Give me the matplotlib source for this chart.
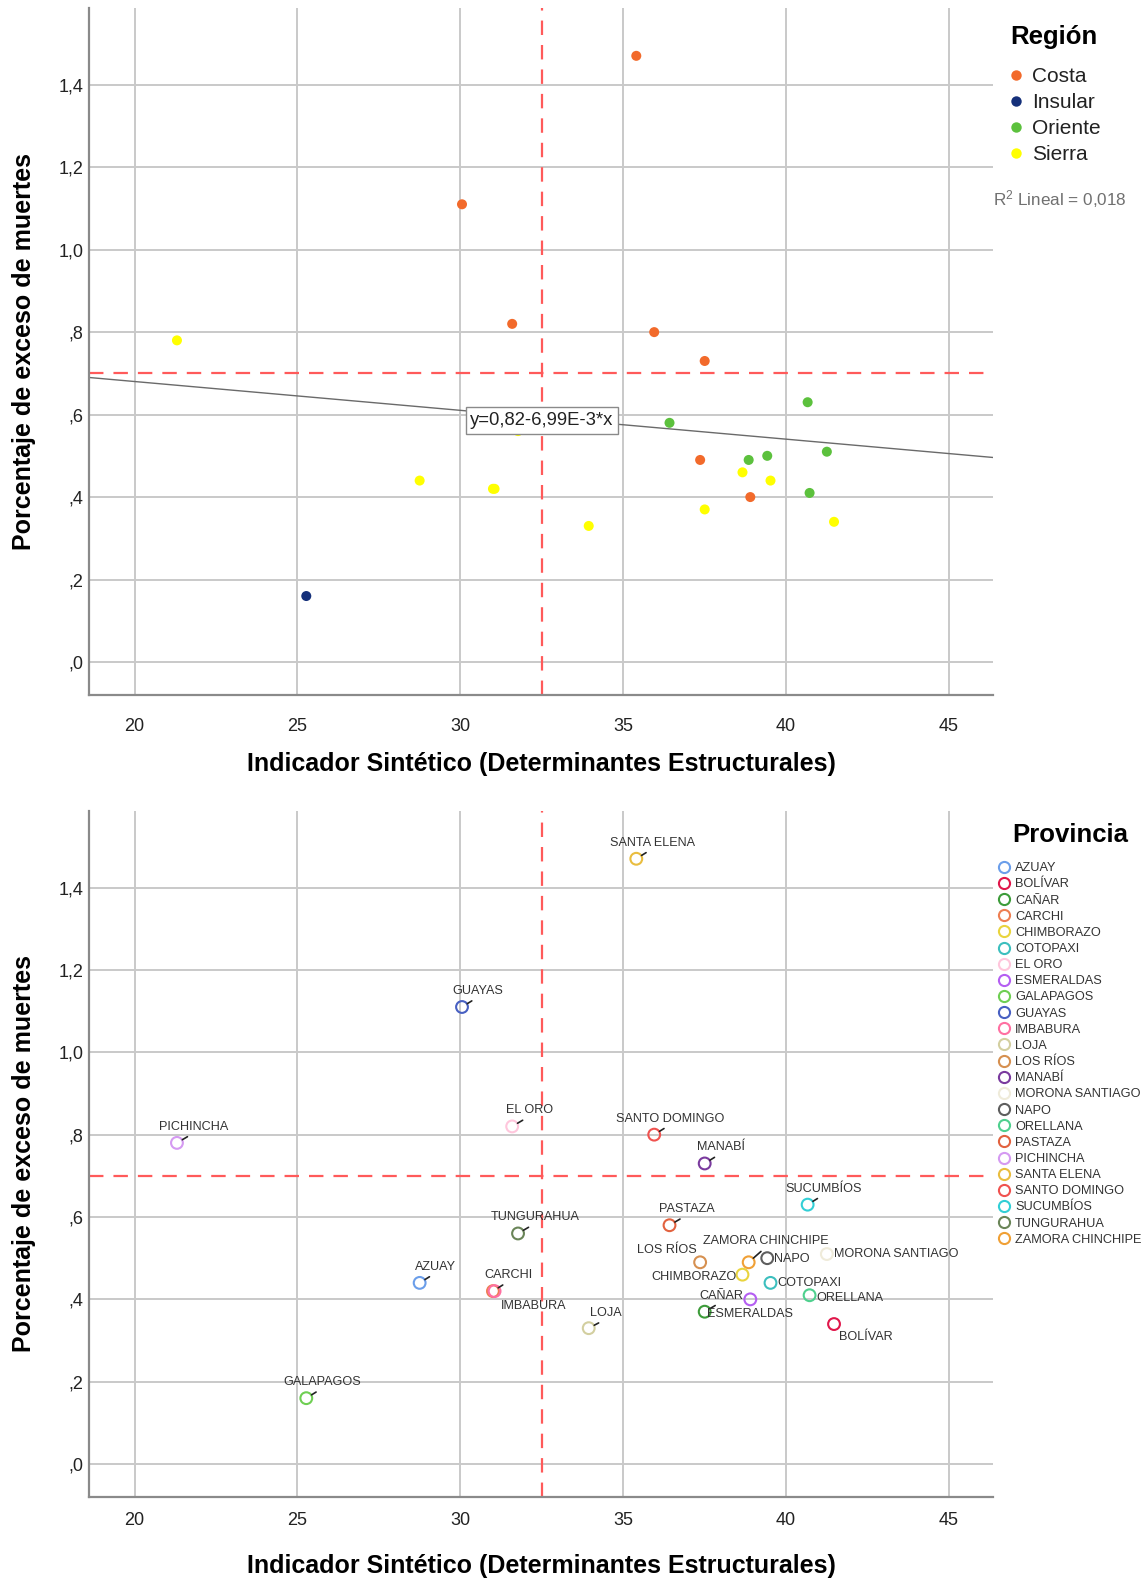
import matplotlib
matplotlib.use("Agg")
import matplotlib.pyplot as plt
from matplotlib.lines import Line2D

plt.rcParams['font.family'] = ['Liberation Sans', 'DejaVu Sans']
plt.rcParams['mathtext.fontset'] = 'custom'
plt.rcParams['mathtext.rm'] = 'Liberation Sans'
plt.rcParams['mathtext.it'] = 'Liberation Sans:italic'

# ---------------- data ----------------
provincias = ["AZUAY", "BOLÍVAR", "CAÑAR", "CARCHI", "CHIMBORAZO", "COTOPAXI",
              "EL ORO", "ESMERALDAS", "GALAPAGOS", "GUAYAS", "IMBABURA", "LOJA",
              "LOS RÍOS", "MANABÍ", "MORONA SANTIAGO", "NAPO", "ORELLANA", "PASTAZA",
              "PICHINCHA", "SANTA ELENA", "SANTO DOMINGO", "SUCUMBÍOS", "TUNGURAHUA",
              "ZAMORA CHINCHIPE"]
indicador = [28.75, 41.47, 37.50, 31.00, 38.66, 39.52,
             31.59, 38.90, 25.27, 30.05, 31.05, 33.94,
             37.36, 37.50, 41.25, 39.42, 40.72, 36.42,
             21.30, 35.40, 35.95, 40.66, 31.77, 38.85]
exceso = [0.44, 0.34, 0.37, 0.42, 0.46, 0.44,
          0.82, 0.40, 0.16, 1.11, 0.42, 0.33,
          0.49, 0.73, 0.51, 0.50, 0.41, 0.58,
          0.78, 1.47, 0.80, 0.63, 0.56, 0.49]
region = ["Sierra", "Sierra", "Sierra", "Sierra", "Sierra", "Sierra",
          "Costa", "Costa", "Insular", "Costa", "Sierra", "Sierra",
          "Costa", "Costa", "Oriente", "Oriente", "Oriente", "Oriente",
          "Sierra", "Costa", "Costa", "Oriente", "Sierra", "Oriente"]
regiones = ["Costa", "Insular", "Oriente", "Sierra"]
region_colors = {"Costa": "#F26A2B", "Insular": "#15307A",
                 "Oriente": "#5CC13D", "Sierra": "#FFFF00"}
prov_colors = ["#6B9EEA", "#E0174B", "#3D9C3A", "#EE7F52", "#E9D43E", "#3CBFBE",
               "#FFC6DC", "#B45EF2", "#6FCF53", "#4860C2", "#FF70A2", "#D3CFA0",
               "#D69050", "#7A3A9E", "#EFEBDA", "#5E5E5E", "#4FD08E", "#E2623F",
               "#D59AF2", "#E9BD3F", "#F0524F", "#32CFD6", "#6A8558", "#F0A035"]

intercepto = 0.82
pendiente = -0.00699
r2 = "0,018"
corte_x = 32.5
corte_y = 0.7

xticks = [20, 25, 30, 35, 40, 45]
yticks = [0.0, 0.2, 0.4, 0.6, 0.8, 1.0, 1.2, 1.4]
ytick_labels = [",0", ",2", ",4", ",6", ",8", "1,0", "1,2", "1,4"]

# label placement (pixel offsets of the label from its point; ha; leader line)
label_pos = {
    "AZUAY": (16, 16, "center", True), "BOLÍVAR": (32, -13, "center", False),
    "CAÑAR": (17, 16, "center", True), "CARCHI": (16, 16, "center", True),
    "CHIMBORAZO": (-6, -2, "right", False), "COTOPAXI": (7, 0, "left", False),
    "EL ORO": (17, 16, "center", True), "ESMERALDAS": (0, -15, "center", False),
    "GALAPAGOS": (16, 16, "center", True), "GUAYAS": (16, 16, "center", True),
    "IMBABURA": (39, -15, "center", False), "LOJA": (17, 15, "center", True),
    "LOS RÍOS": (-33, 12, "center", False), "MANABÍ": (16, 16, "center", True),
    "MORONA SANTIAGO": (7, 0, "left", False), "NAPO": (7, -1, "left", False),
    "ORELLANA": (7, -3, "left", False), "PASTAZA": (17, 16, "center", True),
    "PICHINCHA": (17, 16, "center", True), "SANTA ELENA": (16, 16, "center", True),
    "SANTO DOMINGO": (16, 16, "center", True), "SUCUMBÍOS": (16, 16, "center", True),
    "TUNGURAHUA": (17, 16, "center", True), "ZAMORA CHINCHIPE": (17, 21, "center", True),
}

W, H = 1146, 1579
fig = plt.figure(figsize=(W / 100, H / 100), dpi=100)

XLIM = (18.6, 46.35)
YLIM = (-0.08, 1.586)
AX_L, AX_R = 89, 993


def style_axes(ax, xpad):
    ax.set_xlim(*XLIM)
    ax.set_ylim(*YLIM)
    ax.set_xticks(xticks)
    ax.set_xticklabels([str(v) for v in xticks])
    ax.set_yticks(yticks)
    ax.set_yticklabels(ytick_labels)
    ax.grid(True, color="#C9C9C9", lw=1.4, zorder=0)
    ax.set_axisbelow(True)
    for s in ["top", "right"]:
        ax.spines[s].set_visible(False)
    for s in ["left", "bottom"]:
        ax.spines[s].set_color("#8A8A8A")
        ax.spines[s].set_linewidth(1.6)
    ax.tick_params(axis="both", length=0, labelsize=13, colors="#222222")
    ax.tick_params(axis="x", pad=xpad)
    ax.tick_params(axis="y", pad=4)
    ax.axvline(corte_x, color="#FF5A5A", lw=1.6, ls=(0, (6.5, 4.5)), zorder=1)
    ax.axhline(corte_y, color="#FF5A5A", lw=1.6, ls=(0, (6.5, 4.5)), zorder=1)
    ax.set_xlabel("Indicador Sintético (Determinantes Estructurales)",
                  fontsize=18, fontweight="bold", va="center")
    ax.set_ylabel("Porcentaje de exceso de muertes",
                  fontsize=18, fontweight="bold", va="center")
    bb_h = ax.get_position().height * H
    ax.xaxis.set_label_coords(0.5, -69 / bb_h)
    ax.yaxis.set_label_coords(-(AX_L - 24) / (AX_R - AX_L), 0.5)


# ---------------- top chart ----------------
ax1 = fig.add_axes([AX_L / W, 1 - 695 / H, (AX_R - AX_L) / W, (695 - 8) / H])
style_axes(ax1, 16.5)
for reg in regiones:
    xs = [x for x, r in zip(indicador, region) if r == reg]
    ys = [y for y, r in zip(exceso, region) if r == reg]
    ax1.scatter(xs, ys, s=52, color=region_colors[reg], edgecolors="none",
                zorder=3, label=reg)

xl = list(XLIM)
ax1.plot(xl, [intercepto + pendiente * v for v in xl], color="#6A6A6A", lw=1.0, zorder=2)
ax1.annotate("y=0,82-6,99E-3*x", xy=(corte_x, intercepto + pendiente * corte_x),
             xytext=(0, -3), textcoords="offset pixels",
             ha="center", va="center", fontsize=13.3, color="#222222", zorder=5,
             bbox=dict(boxstyle="square,pad=0.25", fc="white", ec="#8A8A8A", lw=1.0))

h1 = [Line2D([], [], marker="o", ls="", markersize=7.5, markerfacecolor=region_colors[r],
             markeredgecolor="none") for r in regiones]
leg1 = ax1.legend(h1, regiones, loc="upper left", bbox_to_anchor=(1008 / W, 1 - 25 / H),
                  bbox_transform=fig.transFigure, frameon=False, fontsize=15,
                  handlelength=0.8, handletextpad=0.35, labelspacing=0.34,
                  borderpad=0, borderaxespad=0, title="Región",
                  title_fontproperties={"weight": "bold", "size": 18.5})
leg1._legend_box.sep = 13
for t in leg1.get_texts():
    t.set_color("#222222")
fig.text(993 / W, 1 - 199 / H, r"R$^{2}$ Lineal = " + r2, fontsize=12.3,
         color="#707070", ha="left", va="center")

# ---------------- bottom chart ----------------
ax2 = fig.add_axes([AX_L / W, 1 - 1497 / H, (AX_R - AX_L) / W, (1497 - 811) / H])
style_axes(ax2, 10.5)
for i, p in enumerate(provincias):
    ax2.scatter([indicador[i]], [exceso[i]], s=72, facecolors="none",
                edgecolors=prov_colors[i], linewidths=1.5, zorder=3)
    dx, dy, ha, leader = label_pos[p]
    if leader:
        ax2.annotate(p, xy=(indicador[i], exceso[i]), xytext=(dx, dy),
                     textcoords="offset pixels", ha=ha, va="center", fontsize=9.1,
                     color="#333333", zorder=4,
                     arrowprops=dict(arrowstyle="-", color="#222222", lw=1.2,
                                     shrinkA=1.5, shrinkB=4.5, relpos=(0.5, 0.0)))
    else:
        ax2.annotate(p, xy=(indicador[i], exceso[i]), xytext=(dx, dy),
                     textcoords="offset pixels", ha=ha, va="center", fontsize=9.1,
                     color="#333333", zorder=4)

h2 = [Line2D([], [], marker="o", ls="", markersize=8, markerfacecolor="none",
             markeredgecolor=c, markeredgewidth=1.5) for c in prov_colors]
leg2 = ax2.legend(h2, provincias, loc="upper left", bbox_to_anchor=(999 / W, 1 - 823 / H),
                  bbox_transform=fig.transFigure, frameon=False, fontsize=9.2,
                  handlelength=0.8, handletextpad=0.45, labelspacing=0.325,
                  borderpad=0, borderaxespad=0, title="Provincia",
                  title_fontproperties={"weight": "bold", "size": 18.5})
leg2._legend_box.sep = 11
for t in leg2.get_texts():
    t.set_color("#333333")

fig.savefig("out.png", dpi=100)
